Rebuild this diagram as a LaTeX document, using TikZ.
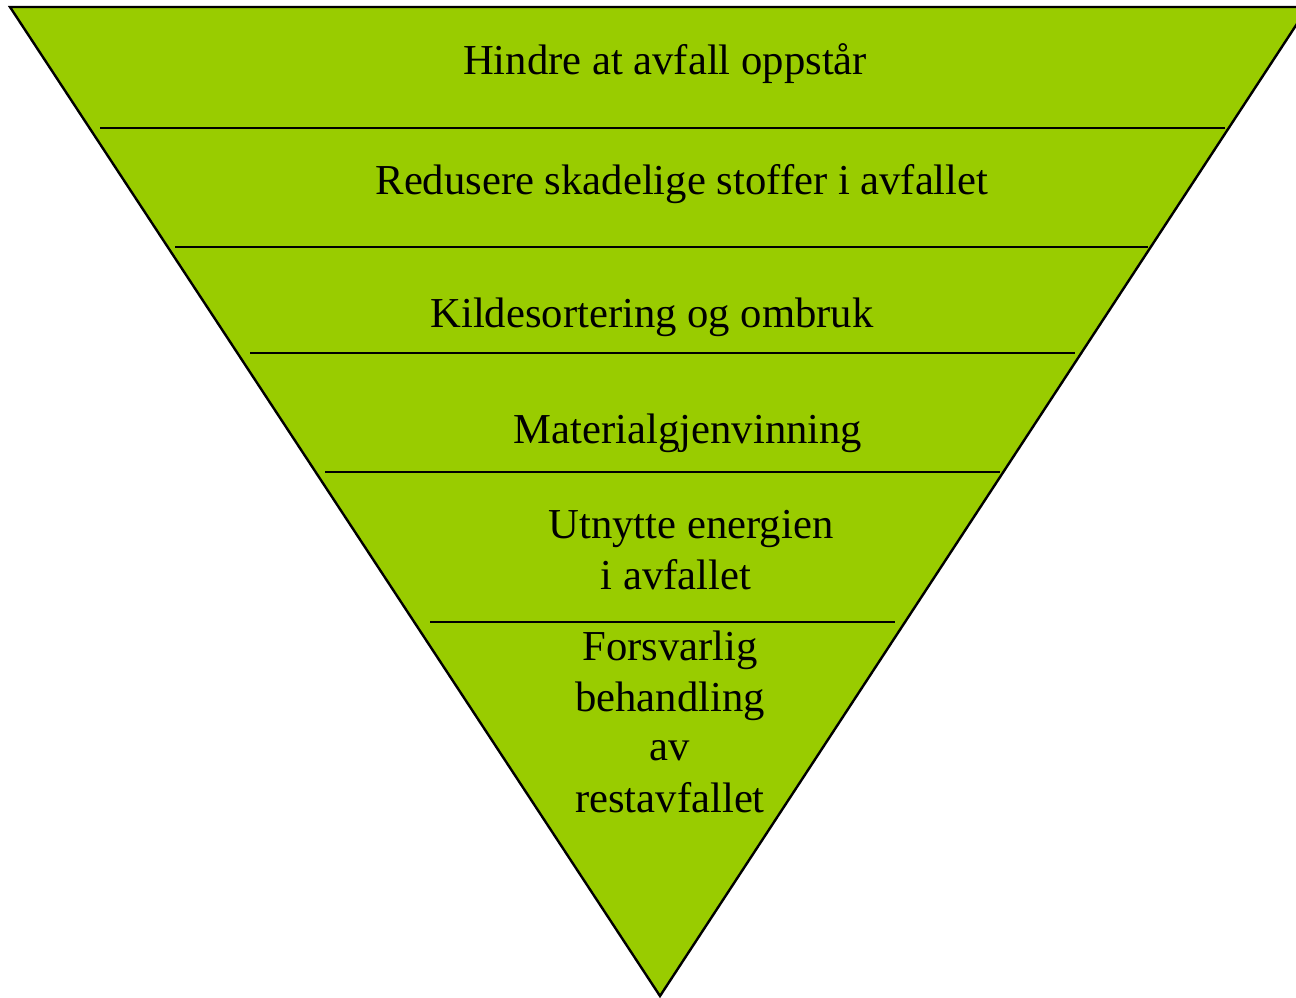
\documentclass[tikz,border=0pt]{standalone}
\usepackage{fontspec}
\setmainfont{Liberation Serif}
\definecolor{levelgreen}{HTML}{99CC00}
\begin{document}
\begin{tikzpicture}[x=0.75pt,y=-0.75pt,
  txt/.style={anchor=base,inner sep=0pt,font=\fontsize{32}{38.25}\selectfont},
  sep/.style={draw=black,line width=1.8pt},
  outline/.style={draw=black,line width=1.8pt,fill=levelgreen,line join=miter}]
\useasboundingbox (0,0) rectangle (1296,997);
\begin{scope}
\clip (0,0) rectangle (1296,997);
\coordinate (tl) at (10,7);
\coordinate (tr) at (1308,7);
\coordinate (apex) at (660,996);
\path[outline] (tl) -- (tr) -- (apex) -- cycle;
\end{scope}
\coordinate (a1) at (100,128);  \coordinate (b1) at (1225,128);
\coordinate (a2) at (175,247);  \coordinate (b2) at (1148,247);
\coordinate (a3) at (250,353);  \coordinate (b3) at (1075,353);
\coordinate (a4) at (325,472);  \coordinate (b4) at (1000,472);
\coordinate (a5) at (430,622);  \coordinate (b5) at (895,622);
\draw[sep] (a1) -- (b1);
\draw[sep] (a2) -- (b2);
\draw[sep] (a3) -- (b3);
\draw[sep] (a4) -- (b4);
\draw[sep] (a5) -- (b5);
\node[txt] (t1) at (665,74) {Hindre at avfall oppstår};
\node[txt] (t2) at (682,194) {Redusere skadelige stoffer i avfallet};
\node[txt] (t3) at (652,327) {Kildesortering og ombruk};
\node[txt] (t4) at (688,443) {Materialgjenvinning};
\node[txt] (t5a) at (691,538) {Utnytte energien};
\node[txt] (t5b) at (676,589) {i avfallet};
\node[txt] (t6a) at (670,660) {Forsvarlig};
\node[txt] (t6b) at (670,711) {behandling};
\node[txt] (t6c) at (670,760) {av};
\node[txt] (t6d) at (670,812) {restavfallet};
\end{tikzpicture}
\end{document}
